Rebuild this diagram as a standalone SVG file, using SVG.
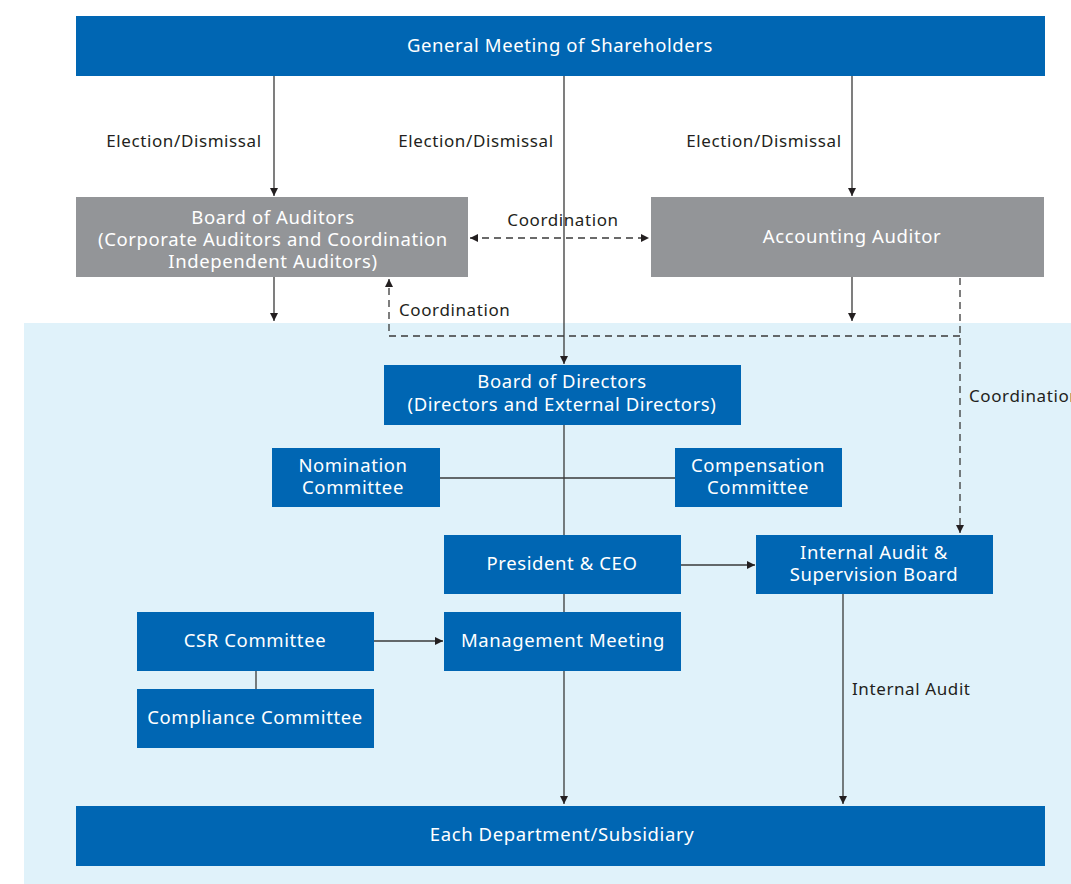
<svg xmlns="http://www.w3.org/2000/svg" width="1071" height="884" viewBox="0 0 1071 884">
  <style>
    .blue { fill: #0066b3; }
    .gray { fill: #939598; }
    .bt { font-family: "Noto Sans", "Open Sans", sans-serif; font-size: 18.5px; letter-spacing: 0.6px; fill: #ffffff; text-anchor: middle; }
    .lbl { font-family: "Noto Sans", "Open Sans", sans-serif; font-size: 17px; letter-spacing: 0.6px; fill: #231f20; }
    .ln { stroke: #3a3a3a; stroke-width: 1.3; fill: none; }
    .dash { stroke: #3a3a3a; stroke-width: 1.3; fill: none; stroke-dasharray: 7 5; }
  </style>
  <defs>
    <marker id="arr" viewBox="0 0 10 10" refX="10" refY="5" markerWidth="8" markerHeight="8" markerUnits="userSpaceOnUse" orient="auto-start-reverse">
      <path d="M0,0 L10,5 L0,10 z" fill="#231f20"/>
    </marker>
  </defs>

  <!-- light panel for the company's internal bodies -->
  <rect x="24" y="323" width="1047" height="561" fill="#e0f2fa"/>

  <g id="connectors">
    <!-- elections from the shareholders -->
    <line class="ln" x1="274" y1="76" x2="274" y2="196" marker-end="url(#arr)"/>
    <line class="ln" x1="564" y1="76" x2="564" y2="364" marker-end="url(#arr)"/>
    <line class="ln" x1="852" y1="76" x2="852" y2="196" marker-end="url(#arr)"/>
    <text class="lbl" x="184" y="147" text-anchor="middle">Election/Dismissal</text>
    <text class="lbl" x="476" y="147" text-anchor="middle">Election/Dismissal</text>
    <text class="lbl" x="764" y="147" text-anchor="middle">Election/Dismissal</text>

    <!-- audits into the company -->
    <line class="ln" x1="274" y1="277" x2="274" y2="321" marker-end="url(#arr)"/>
    <line class="ln" x1="852" y1="277" x2="852" y2="321" marker-end="url(#arr)"/>

    <!-- coordination between auditors -->
    <line class="dash" x1="470" y1="238" x2="649" y2="238" marker-start="url(#arr)" marker-end="url(#arr)"/>
    <text class="lbl" x="563" y="226" text-anchor="middle">Coordination</text>

    <!-- coordination loop to internal audit -->
    <path class="dash" d="M960,278 V533" marker-end="url(#arr)"/>
    <path class="dash" d="M960,336 H389 V279" marker-end="url(#arr)"/>
    <text class="lbl" x="399" y="316">Coordination</text>
    <text class="lbl" x="969" y="402">Coordination</text>

    <!-- board to executive -->
    <line class="ln" x1="564" y1="425" x2="564" y2="535"/>
    <line class="ln" x1="440" y1="478" x2="675" y2="478"/>
    <line class="ln" x1="564" y1="594" x2="564" y2="612"/>
    <line class="ln" x1="681" y1="565" x2="755" y2="565" marker-end="url(#arr)"/>
    <line class="ln" x1="374" y1="641" x2="443" y2="641" marker-end="url(#arr)"/>
    <line class="ln" x1="256" y1="671" x2="256" y2="689"/>
    <line class="ln" x1="564" y1="671" x2="564" y2="804" marker-end="url(#arr)"/>
    <line class="ln" x1="843" y1="594" x2="843" y2="804" marker-end="url(#arr)"/>
    <text class="lbl" x="852" y="695">Internal Audit</text>
  </g>

  <g id="shareholders">
    <rect class="blue" x="76" y="16" width="969" height="60"/>
    <text class="bt" x="560" y="52">General Meeting of Shareholders</text>
  </g>
  <g id="board-of-auditors">
    <rect class="gray" x="76" y="197" width="392" height="80"/>
    <text class="bt" x="273" y="224">Board of Auditors</text>
    <text class="bt" x="273" y="246">(Corporate Auditors and Coordination</text>
    <text class="bt" x="273" y="268">Independent Auditors)</text>
  </g>
  <g id="accounting-auditor">
    <rect class="gray" x="651" y="197" width="393" height="80"/>
    <text class="bt" x="852" y="243">Accounting Auditor</text>
  </g>
  <g id="board-of-directors">
    <rect class="blue" x="384" y="365" width="357" height="60"/>
    <text class="bt" x="562" y="388">Board of Directors</text>
    <text class="bt" x="562" y="411">(Directors and External Directors)</text>
  </g>
  <g id="nomination">
    <rect class="blue" x="272" y="448" width="168" height="59"/>
    <text class="bt" x="353" y="472">Nomination</text>
    <text class="bt" x="353" y="494">Committee</text>
  </g>
  <g id="compensation">
    <rect class="blue" x="675" y="448" width="167" height="59"/>
    <text class="bt" x="758" y="472">Compensation</text>
    <text class="bt" x="758" y="494">Committee</text>
  </g>
  <g id="president">
    <rect class="blue" x="444" y="535" width="237" height="59"/>
    <text class="bt" x="562" y="570">President &amp; CEO</text>
  </g>
  <g id="internal-audit">
    <rect class="blue" x="756" y="535" width="237" height="59"/>
    <text class="bt" x="874" y="559">Internal Audit &amp;</text>
    <text class="bt" x="874" y="581">Supervision Board</text>
  </g>
  <g id="csr">
    <rect class="blue" x="137" y="612" width="237" height="59"/>
    <text class="bt" x="255" y="647">CSR Committee</text>
  </g>
  <g id="management-meeting">
    <rect class="blue" x="444" y="612" width="237" height="59"/>
    <text class="bt" x="563" y="647">Management Meeting</text>
  </g>
  <g id="compliance">
    <rect class="blue" x="137" y="689" width="237" height="59"/>
    <text class="bt" x="255" y="724">Compliance Committee</text>
  </g>
  <g id="departments">
    <rect class="blue" x="76" y="806" width="969" height="60"/>
    <text class="bt" x="562" y="841">Each Department/Subsidiary</text>
  </g>
</svg>
